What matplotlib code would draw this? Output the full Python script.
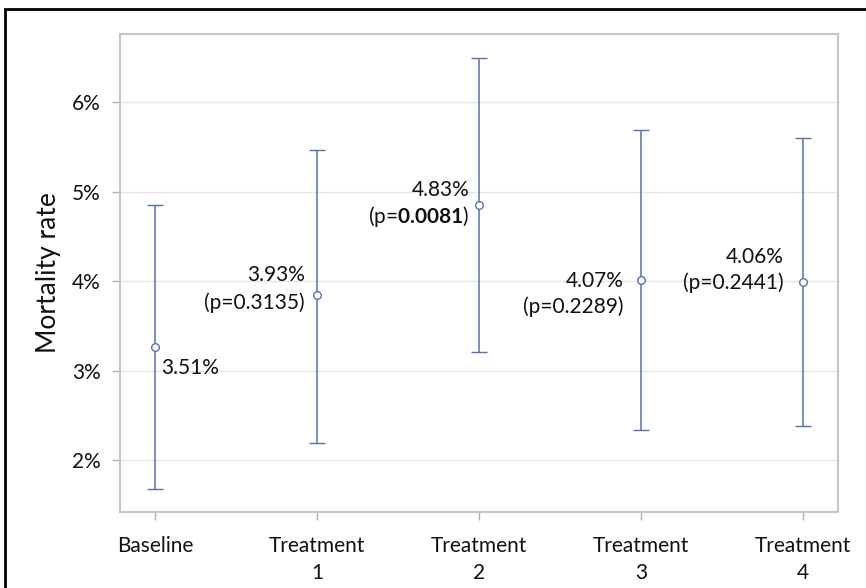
import matplotlib
matplotlib.use("Agg")
import matplotlib.pyplot as plt
from matplotlib.patches import Rectangle

# data (percent)
groups = ["Baseline", "Treatment\n1", "Treatment\n2", "Treatment\n3", "Treatment\n4"]
rate = [3.26, 3.84, 4.85, 4.01, 3.99]
lower = [1.68, 2.19, 3.21, 2.34, 2.38]
upper = [4.85, 5.46, 6.49, 5.69, 5.60]
rate_txt = ["3.51%", "3.93%", "4.83%", "4.07%", "4.06%"]
p_txt = [None, "0.3135", "0.0081", "0.2289", "0.2441"]
p_bold = [False, False, True, False, False]

plt.rcParams['font.family'] = ['Lato', 'DejaVu Sans']
plt.rcParams['mathtext.fontset'] = 'custom'
plt.rcParams['mathtext.rm'] = 'Lato'
plt.rcParams['mathtext.bf'] = 'Lato:bold'

blue = '#5d6db0'
fs = 15
fig = plt.figure(figsize=(8.66, 5.88), dpi=100)
ax = fig.add_axes([120/866, 1-512/588, (838-120)/866, (512-34)/588])

x = list(range(len(groups)))
yerr = [[r - l for r, l in zip(rate, lower)], [u - r for r, u in zip(rate, upper)]]
ax.errorbar(x, rate, yerr=yerr, fmt='o', color=blue, mfc='white', mec=blue,
            ms=5.5, mew=1, elinewidth=1.1, capsize=6, capthick=1.1, zorder=3)

ax.set_xlim(-0.216, 4.216)
ax.set_ylim(1.42, 6.76)
ax.set_yticks([2, 3, 4, 5, 6])
ax.set_yticklabels(["2%", "3%", "4%", "5%", "6%"])
ax.set_xticks(x)
ax.set_xticklabels(groups, linespacing=1.45)
ax.grid(axis='y', color='#e6e6e6', lw=1)
ax.set_axisbelow(True)
for s in ax.spines.values():
    s.set_color('#c4c7ca')
    s.set_linewidth(1.5)
ax.tick_params(axis='y', length=6, width=1, color='#b0b0b0', pad=8, labelsize=fs, labelcolor='#111111')
ax.tick_params(axis='x', length=6, width=1, color='#b0b0b0', pad=11, labelsize=fs, labelcolor='#111111')
ax.set_ylabel("Mortality rate", fontsize=19, color='#111111', labelpad=8)

# value labels
ax.text(0.037, 3.03, rate_txt[0], ha='left', va='center', fontsize=fs, color='#111111')
pos = [None, (-0.074, 4.07, 3.76), (-0.056, 5.02, 4.72), (-0.11, 4.00, 3.71), (-0.117, 4.27, 3.98)]
for i in range(1, 5):
    dx, y1, y2 = pos[i]
    ax.text(i + dx, y1, rate_txt[i], ha='right', va='center', fontsize=fs, color='#111111')
    if p_bold[i]:
        s = r"(p=$\mathbf{" + p_txt[i] + r"}$)"
    else:
        s = "(p=" + p_txt[i] + ")"
    ax.text(i + dx, y2, s, ha='right', va='center', fontsize=fs, color='#111111')

# frame around the figure (left and top edges visible)
fig.patches.append(Rectangle((5/866, -0.1), 2, 1 - 9/588 + 0.1, transform=fig.transFigure,
                             fill=False, ec='black', lw=2))

fig.savefig("out.png", dpi=100)
